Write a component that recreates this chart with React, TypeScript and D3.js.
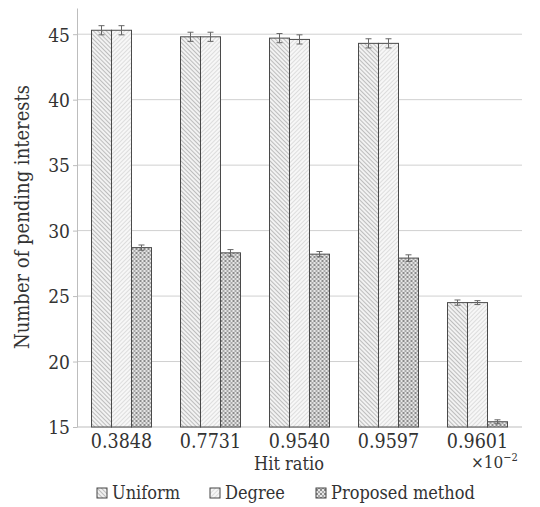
import React, { useEffect, useRef } from 'react';
import * as d3 from 'd3';

const categories = ['0.3848', '0.7731', '0.9540', '0.9597', '0.9601'];
const seriesNames = ['Uniform', 'Degree', 'Proposed method'];
const uniformValues = [45.3, 44.8, 44.7, 44.3, 24.5];
const degreeValues = [45.3, 44.8, 44.6, 44.3, 24.5];
const proposedValues = [28.7, 28.3, 28.2, 27.9, 15.4];
const uniformErr = [0.35, 0.35, 0.35, 0.35, 0.2];
const degreeErr = [0.35, 0.35, 0.35, 0.35, 0.15];
const proposedErr = [0.2, 0.25, 0.2, 0.25, 0.15];
const yTicks = [15, 20, 25, 30, 35, 40, 45];

const FONT = '"DejaVu Serif Condensed", "DejaVu Serif", serif';
const TEXT = '#333';

const App = () => {
  const ref = useRef<SVGSVGElement>(null);

  useEffect(() => {
    const width = 540;
    const height = 507;
    const margin = { top: 8, right: 18, bottom: 80, left: 77 };

    const svg = d3.select(ref.current);
    svg.selectAll('*').remove();

    // patterns
    const defs = svg.append('defs');
    const p1 = defs.append('pattern').attr('id', 'pat-uniform').attr('patternUnits', 'userSpaceOnUse')
      .attr('width', 3).attr('height', 3).attr('patternTransform', 'rotate(-45)');
    p1.append('rect').attr('width', 3).attr('height', 3).attr('fill', '#f2f2f2');
    p1.append('line').attr('x1', 0).attr('y1', 0).attr('x2', 0).attr('y2', 3)
      .attr('stroke', '#9a9a9a').attr('stroke-width', 1.2);

    const p2 = defs.append('pattern').attr('id', 'pat-degree').attr('patternUnits', 'userSpaceOnUse')
      .attr('width', 3).attr('height', 3).attr('patternTransform', 'rotate(45)');
    p2.append('rect').attr('width', 3).attr('height', 3).attr('fill', '#f7f7f7');
    p2.append('line').attr('x1', 0).attr('y1', 0).attr('x2', 0).attr('y2', 3)
      .attr('stroke', '#c4c4c4').attr('stroke-width', 1);

    const p3 = defs.append('pattern').attr('id', 'pat-proposed').attr('patternUnits', 'userSpaceOnUse')
      .attr('width', 4).attr('height', 4);
    p3.append('rect').attr('width', 4).attr('height', 4).attr('fill', '#e6e6e6');
    p3.append('rect').attr('x', 0).attr('y', 0).attr('width', 2).attr('height', 2).attr('fill', '#8a8a8a');
    p3.append('rect').attr('x', 2).attr('y', 2).attr('width', 2).attr('height', 2).attr('fill', '#a8a8a8');

    const fills = ['url(#pat-uniform)', 'url(#pat-degree)', 'url(#pat-proposed)'];
    const values = [uniformValues, degreeValues, proposedValues];
    const errs = [uniformErr, degreeErr, proposedErr];

    const x0 = d3.scaleBand<string>()
      .domain(categories)
      .range([margin.left, width - margin.right])
      .paddingInner(0.326)
      .paddingOuter(0.163);
    const x1 = d3.scaleBand<string>()
      .domain(seriesNames)
      .range([0, x0.bandwidth()]);
    const y = d3.scaleLinear().domain([15, 47]).range([427, margin.top]);

    // gridlines
    svg.append('g')
      .selectAll('line')
      .data(yTicks.slice(1))
      .join('line')
      .attr('x1', margin.left)
      .attr('x2', width - margin.right)
      .attr('y1', (d) => y(d))
      .attr('y2', (d) => y(d))
      .attr('stroke', '#d0d0d0')
      .attr('stroke-width', 1);

    // y axis
    const yAxis = svg.append('g')
      .attr('transform', `translate(${margin.left},0)`)
      .call(d3.axisLeft(y).tickValues(yTicks).tickSize(4).tickPadding(3).tickSizeOuter(0));
    yAxis.select('.domain').attr('stroke', '#bdbdbd');
    yAxis.selectAll('line').attr('stroke', '#bdbdbd');
    yAxis.selectAll('text')
      .style('font-family', FONT)
      .style('font-size', '19px')
      .attr('fill', TEXT)
      .attr('dy', '0.36em');

    // bottom axis line
    svg.append('line')
      .attr('x1', margin.left).attr('x2', width - margin.right)
      .attr('y1', y(15)).attr('y2', y(15))
      .attr('stroke', '#bdbdbd');

    // bars
    const groups = svg.append('g')
      .selectAll('g')
      .data(categories)
      .join('g')
      .attr('transform', (d) => `translate(${x0(d)},0)`);

    seriesNames.forEach((s, si) => {
      groups.append('rect')
        .attr('x', x1(s)!)
        .attr('width', x1.bandwidth())
        .attr('y', (_, i) => y(values[si][i]))
        .attr('height', (_, i) => y(15) - y(values[si][i]))
        .attr('fill', fills[si])
        .attr('stroke', '#4a4a4a')
        .attr('stroke-width', 1);

      const cx = x1(s)! + x1.bandwidth() / 2;
      groups.append('path')
        .attr('d', (_, i) => {
          const v = values[si][i];
          const e = errs[si][i];
          const t = y(v + e);
          const b = y(v - e);
          return `M${cx - 3},${t}H${cx + 3}M${cx},${t}V${b}M${cx - 3},${b}H${cx + 3}`;
        })
        .attr('stroke', '#666')
        .attr('fill', 'none')
        .attr('stroke-width', 1);
    });

    // x tick labels
    svg.append('g')
      .selectAll('text')
      .data(categories)
      .join('text')
      .attr('x', (d) => x0(d)! + x0.bandwidth() / 2)
      .attr('y', 448)
      .attr('text-anchor', 'middle')
      .style('font-family', FONT)
      .style('font-size', '19.5px')
      .attr('fill', TEXT)
      .text((d) => d);

    // x title
    svg.append('text')
      .attr('x', 289)
      .attr('y', 470)
      .attr('text-anchor', 'middle')
      .style('font-family', FONT)
      .style('font-size', '18px')
      .attr('fill', TEXT)
      .text('Hit ratio');

    // multiplier
    const mult = svg.append('text')
      .attr('x', 471)
      .attr('y', 468)
      .style('font-family', FONT)
      .style('font-size', '17px')
      .attr('fill', TEXT);
    mult.append('tspan').text('×10');
    mult.append('tspan').attr('dy', -7).style('font-size', '11px').text('−2');

    // y title
    svg.append('text')
      .attr('transform', 'translate(29,217) rotate(-90)')
      .attr('text-anchor', 'middle')
      .style('font-family', FONT)
      .style('font-size', '20px')
      .attr('fill', TEXT)
      .text('Number of pending interests');

    // legend
    const legendX = [97, 210, 316];
    const legend = svg.append('g')
      .selectAll('g')
      .data(seriesNames)
      .join('g')
      .attr('transform', (_, i) => `translate(${legendX[i]},493)`);
    legend.append('rect')
      .attr('x', 0).attr('y', -5).attr('width', 10).attr('height', 10)
      .attr('fill', (_, i) => fills[i])
      .attr('stroke', '#444').attr('stroke-width', 1);
    legend.append('text')
      .attr('x', 15)
      .attr('y', 6)
      .style('font-family', FONT)
      .style('font-size', '18px')
      .attr('fill', TEXT)
      .text((d) => d);
  }, []);

  return <svg ref={ref} width={540} height={507} style={{ display: 'block', position: 'absolute', left: 0, top: 0 }} />;
};

export default App;
